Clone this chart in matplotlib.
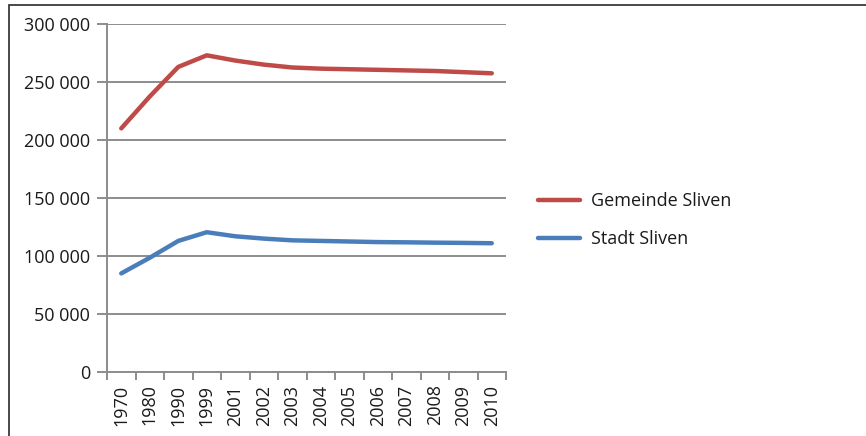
import matplotlib
matplotlib.use("Agg")
import matplotlib.pyplot as plt
from matplotlib.patches import Rectangle
from matplotlib.ticker import FixedLocator, FuncFormatter

years = ["1970", "1980", "1990", "1999", "2001", "2002", "2003",
         "2004", "2005", "2006", "2007", "2008", "2009", "2010"]
gemeinde_sliven = [210000, 237500, 263000, 273000, 268500, 265000, 262500,
                   261500, 261000, 260500, 260000, 259500, 258500, 257500]
stadt_sliven = [85000, 98500, 113000, 120500, 117000, 115000, 113500,
                113000, 112500, 112000, 111800, 111500, 111300, 111000]
y_ticks = [0, 50000, 100000, 150000, 200000, 250000, 300000]

plt.rcParams["font.family"] = ["Open Sans", "DejaVu Sans"]

fig = plt.figure(figsize=(8.66, 4.36), dpi=100)
fig.patch.set_facecolor("white")

# outer chart frame
fig.patches.append(Rectangle((9 / 866, -0.05), 1.2, (436 - 5) / 436 + 0.05,
                             transform=fig.transFigure, fill=False,
                             edgecolor="#3a3a3a", linewidth=1.3))

ax = fig.add_axes([107 / 866, 64 / 436, (506 - 107) / 866, (372 - 24) / 436])

x = list(range(len(years)))
red = "#BE4B48"
blue = "#4A7EBB"
ax.plot(x, gemeinde_sliven, color=red, linewidth=3.2, label="Gemeinde Sliven",
        solid_capstyle="round", solid_joinstyle="round")
ax.plot(x, stadt_sliven, color=blue, linewidth=3.2, label="Stadt Sliven",
        solid_capstyle="round", solid_joinstyle="round")

ax.set_xlim(-0.5, len(years) - 0.5)
ax.set_ylim(0, 300000)

grid_c = "#8c8c8c"
text_c = "#1a1a1a"
ax.set_yticks(y_ticks)
ax.yaxis.set_major_formatter(FuncFormatter(lambda v, p: f"{int(v):,}".replace(",", " ")))
ax.yaxis.grid(True, color=grid_c, linewidth=1.4)
ax.set_axisbelow(True)

# category boundaries carry the tick marks, centres carry the labels
ax.xaxis.set_major_locator(FixedLocator([i - 0.5 for i in range(len(years) + 1)]))
ax.xaxis.set_major_formatter(FuncFormatter(lambda v, p: ""))
ax.xaxis.set_minor_locator(FixedLocator(x))
ax.set_xticklabels(years, minor=True, rotation=90)
ax.tick_params(axis="x", which="major", length=6, width=1.4, color=grid_c, direction="out")
ax.tick_params(axis="x", which="minor", length=0, labelsize=13, pad=9, colors=text_c)
ax.tick_params(axis="y", length=7, width=1.4, color=grid_c, direction="out",
               labelsize=13, pad=5, labelcolor=text_c)

for side in ("top", "right"):
    ax.spines[side].set_visible(False)
for side in ("left", "bottom"):
    ax.spines[side].set_color(grid_c)
    ax.spines[side].set_linewidth(1.4)

leg = fig.legend(loc="center left", bbox_to_anchor=(522 / 866, 1 - 220 / 436),
                 frameon=False, fontsize=13, handlelength=2.3, handletextpad=0.6,
                 labelspacing=1.1)
for t in leg.get_texts():
    t.set_color(text_c)

fig.savefig("out.png", dpi=100, facecolor="white")
